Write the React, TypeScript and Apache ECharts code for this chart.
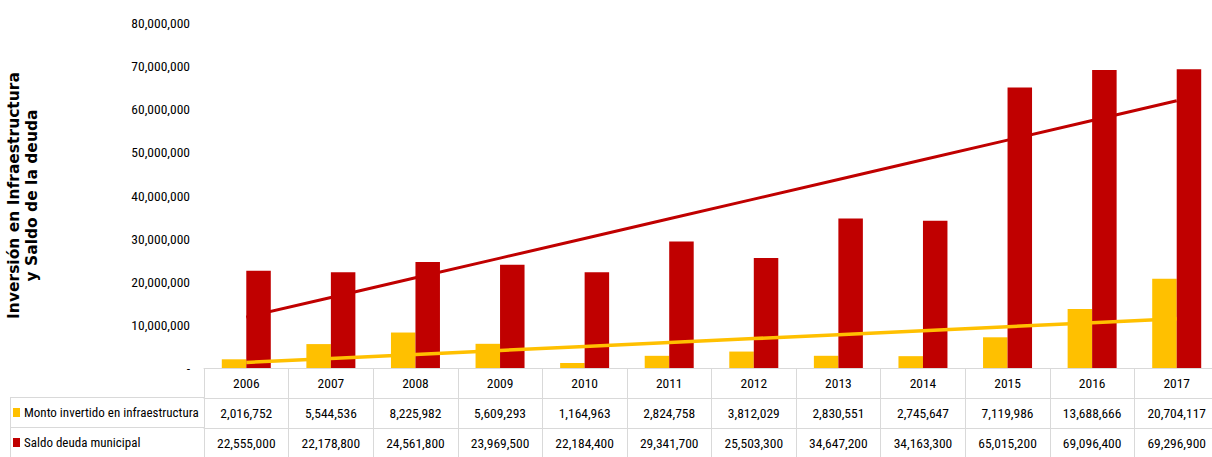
import React, { useEffect, useRef } from "react";
import * as echarts from "echarts";

const years = ["2006", "2007", "2008", "2009", "2010", "2011", "2012", "2013", "2014", "2015", "2016", "2017"];
const inversion = [2016752, 5544536, 8225982, 5609293, 1164963, 2824758, 3812029, 2830551, 2745647, 7119986, 13688666, 20704117];
const deuda = [22555000, 22178800, 24561800, 23969500, 22184400, 29341700, 25503300, 34647200, 34163300, 65015200, 69096400, 69296900];
const yTicks = { min: 0, max: 80000000, interval: 10000000 };
const seriesNames = ["Monto invertido en infraestructura", "Saldo deuda municipal"];
const axisTitle = "Inversión en Infraestructura\ny Saldo de la deuda";

const YELLOW = "#FFC000";
const RED = "#C00000";
const GRID = "#d9d9d9";
const FONT = "'Roboto Condensed', 'DejaVu Sans Condensed', sans-serif";

// Excel-style linear trendline (least squares over category index)
function linearTrend(values: number[]): number[] {
  const n = values.length;
  const xs = values.map((_, i) => i + 1);
  const mx = xs.reduce((a, b) => a + b, 0) / n;
  const my = values.reduce((a, b) => a + b, 0) / n;
  let sxy = 0;
  let sxx = 0;
  for (let i = 0; i < n; i++) {
    sxy += (xs[i] - mx) * (values[i] - my);
    sxx += (xs[i] - mx) * (xs[i] - mx);
  }
  const slope = sxy / sxx;
  return xs.map((x) => my + slope * (x - mx));
}

const fmt = (v: number) => v.toLocaleString("en-US");

export default function App() {
  const ref = useRef<HTMLDivElement>(null);
  useEffect(() => {
    if (!ref.current) return;
    const chart = echarts.init(ref.current, undefined, { renderer: "svg" });
    const tableLabel = {
      fontFamily: FONT,
      fontSize: 13.5,
      color: "#000",
      margin: 8,
      interval: 0,
      hideOverlap: false,
    };
    chart.setOption({
      animation: false,
      grid: { left: 204, right: -7, top: 23, bottom: 89, containLabel: false, outerBoundsMode: "none" },
      legend: {
        orient: "vertical",
        left: 13,
        top: 406,
        padding: 0,
        icon: "rect",
        itemWidth: 7,
        itemHeight: 9,
        itemGap: 17,
        selectedMode: false,
        data: seriesNames,
        textStyle: { fontFamily: FONT, fontSize: 13, color: "#000", padding: [0, 0, 0, -1] },
      },
      xAxis: [
        {
          type: "category",
          data: years,
          position: "bottom",
          axisLine: { show: true, lineStyle: { color: GRID, width: 1 } },
          axisTick: { show: true, length: 89, interval: 0, lineStyle: { color: GRID, width: 1 } },
          axisLabel: tableLabel,
        },
        {
          type: "category",
          data: years,
          position: "bottom",
          offset: 30,
          axisLine: { show: true, lineStyle: { color: GRID, width: 1 } },
          axisTick: { show: false },
          axisLabel: { ...tableLabel, formatter: (_v: string, i: number) => fmt(inversion[i]) },
        },
        {
          type: "category",
          data: years,
          position: "bottom",
          offset: 60,
          axisLine: { show: true, lineStyle: { color: GRID, width: 1 } },
          axisTick: { show: false },
          axisLabel: { ...tableLabel, formatter: (_v: string, i: number) => fmt(deuda[i]) },
        },
      ],
      yAxis: {
        type: "value",
        min: yTicks.min,
        max: yTicks.max,
        interval: yTicks.interval,
        axisLine: { show: false },
        axisTick: { show: false },
        splitLine: { show: false },
        axisLabel: {
          fontFamily: FONT,
          fontSize: 13.5,
          color: "#000",
          margin: 14,
          formatter: (v: number) => (v === 0 ? "-" : fmt(v)),
        },
        name: axisTitle,
        nameLocation: "middle",
        nameRotate: 90,
        nameGap: 163,
        nameTextStyle: {
          fontFamily: "'DejaVu Sans', sans-serif",
          fontWeight: "bold",
          fontSize: 15.5,
          color: "#000",
          lineHeight: 18,
          align: "center",
        },
      },
      series: [
        {
          name: seriesNames[0],
          type: "bar",
          data: inversion,
          barWidth: 24.5,
          barGap: "0%",
          itemStyle: { color: YELLOW },
          z: 2,
        },
        {
          name: seriesNames[1],
          type: "bar",
          data: deuda,
          barWidth: 24.5,
          barGap: "0%",
          itemStyle: { color: RED },
          z: 2,
        },
        {
          name: "trend1",
          type: "line",
          data: linearTrend(inversion),
          symbol: "none",
          lineStyle: { color: YELLOW, width: 3.5 },
          z: 5,
        },
        {
          name: "trend2",
          type: "line",
          data: linearTrend(deuda),
          symbol: "none",
          lineStyle: { color: RED, width: 3 },
          z: 5,
        },
      ],
      graphic: [
        { type: "line", shape: { x1: 10, y1: 397.5, x2: 204, y2: 397.5 }, style: { stroke: GRID, lineWidth: 1 } },
        { type: "line", shape: { x1: 10, y1: 427.5, x2: 204, y2: 427.5 }, style: { stroke: GRID, lineWidth: 1 } },
        { type: "line", shape: { x1: 10.5, y1: 397.5, x2: 10.5, y2: 457 }, style: { stroke: GRID, lineWidth: 1 } },
      ],
    });
    return () => chart.dispose();
  }, []);
  return (
    <div
      ref={ref}
      style={{ position: "absolute", left: 0, top: 0, width: 1212, height: 457, background: "#fff" }}
    />
  );
}
